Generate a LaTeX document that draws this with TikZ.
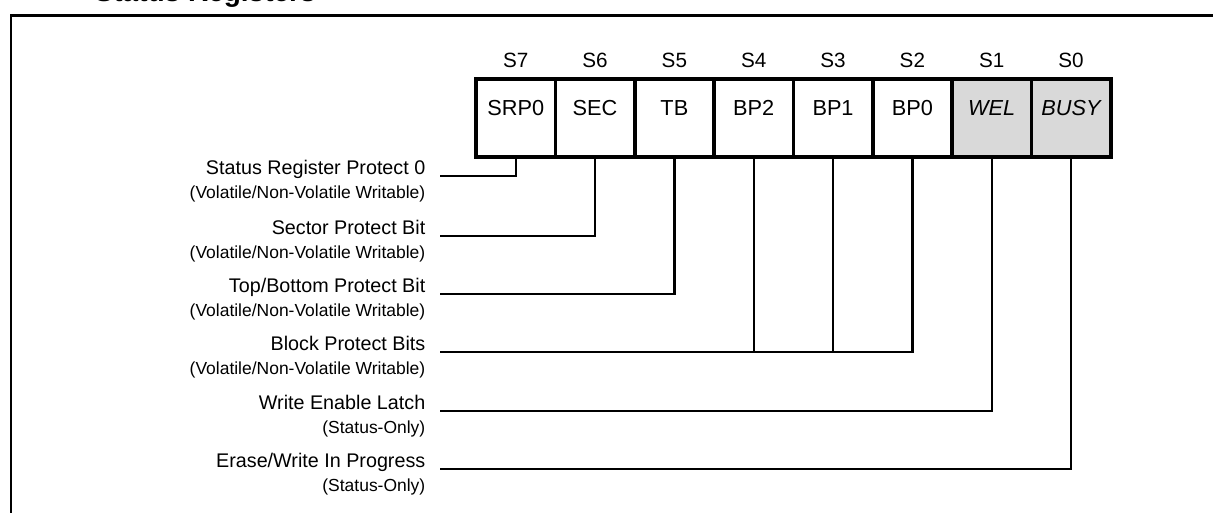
\documentclass[tikz,border=0pt]{standalone}
\usepackage{fontspec}
\setmainfont{Liberation Sans}
\usetikzlibrary{positioning}
\definecolor{flaggray}{HTML}{D9D9D9}

\tikzset{
  cell/.style={draw,line width=2.8pt,minimum width=59.5pt,minimum height=58.5pt,
    inner sep=0pt,outer sep=0pt,font=\fontsize{16.3}{18}\selectfont,
    text height=12pt,text depth=16.5pt},
  flag/.style={cell,fill=flaggray,font=\fontsize{16.3}{18}\selectfont\itshape},
  bitno/.style={anchor=base,font=\fontsize{15.5}{17}\selectfont},
  lbl/.style={anchor=base east,font=\fontsize{14.8}{17}\selectfont},
  sublbl/.style={anchor=base east,font=\fontsize{13.1}{15}\selectfont},
  wire/.style={line width=1.8pt}
}

\begin{document}
\begin{tikzpicture}[x=0.75pt,y=-0.75pt]
\useasboundingbox (0,0) rectangle (1213,512);

% Frame and heading
      \node (title) [anchor=base west,font=\fontsize{21}{24}\selectfont\bfseries] at (90,1.5) {Status Registers};
      \draw[line width=2.2pt] (11,520) -- (11,15.5) -- (1220,15.5);

% Register cells
      \node (srp0) [cell] at (515.7,118) {SRP0};
      \node (sec)  [cell,right=0pt of srp0] {SEC};
      \node (tb)   [cell,right=0pt of sec]  {TB};
      \node (bp2)  [cell,right=0pt of tb]   {BP2};
      \node (bp1)  [cell,right=0pt of bp2]  {BP1};
      \node (bp0)  [cell,right=0pt of bp1]  {BP0};
      \node (wel)  [flag,right=0pt of bp0]  {WEL};
      \node (busy) [flag,right=0pt of wel]  {BUSY};
    %bit numbers
      \node (s7) [bitno] at ([yshift=9pt]srp0.north) {S7};
      \node (s6) [bitno] at ([yshift=9pt]sec.north)  {S6};
      \node (s5) [bitno] at ([yshift=9pt]tb.north)   {S5};
      \node (s4) [bitno] at ([yshift=9pt]bp2.north)  {S4};
      \node (s3) [bitno] at ([yshift=9pt]bp1.north)  {S3};
      \node (s2) [bitno] at ([yshift=9pt]bp0.north)  {S2};
      \node (s1) [bitno] at ([yshift=9pt]wel.north)  {S1};
      \node (s0) [bitno] at ([yshift=9pt]busy.north) {S0};

% Descriptions
      \node (srplbl)  [lbl]    at (430,174) {Status Register Protect 0};
      \node (srpsub)  [sublbl] at (430,198) {(Volatile/Non-Volatile Writable)};
      \node (seclbl)  [lbl]    at (430,234) {Sector Protect Bit};
      \node (secsub)  [sublbl] at (430,258) {(Volatile/Non-Volatile Writable)};
      \node (tblbl)   [lbl]    at (430,292) {Top/Bottom Protect Bit};
      \node (tbsub)   [sublbl] at (430,316) {(Volatile/Non-Volatile Writable)};
      \node (bplbl)   [lbl]    at (430,350) {Block Protect Bits};
      \node (bpsub)   [sublbl] at (430,374) {(Volatile/Non-Volatile Writable)};
      \node (wellbl)  [lbl]    at (430,409) {Write Enable Latch};
      \node (welsub)  [sublbl] at (430,433) {(Status-Only)};
      \node (busylbl) [lbl]    at (430,467) {Erase/Write In Progress};
      \node (busysub) [sublbl] at (430,491) {(Status-Only)};

% Leader lines
      \coordinate (srpin)  at (440,176);
      \coordinate (secin)  at (440,236);
      \coordinate (tbin)   at (440,294);
      \coordinate (bpin)   at (440,352);
      \coordinate (welin)  at (440,411);
      \coordinate (busyin) at (440,469);
      \begin{scope}[wire]
        \draw (srpin) -| (srp0.south);
        \draw (secin) -| (sec.south);
        \draw (tbin)  -| (tb.south);
        \draw (bpin)  -| (bp0.south);
        \draw (bp2.south) -- (bp2.south |- bpin);
        \draw (bp1.south) -- (bp1.south |- bpin);
        \draw (welin)  -| (wel.south);
        \draw (busyin) -| (busy.south);
      \end{scope}

\end{tikzpicture}
\end{document}
